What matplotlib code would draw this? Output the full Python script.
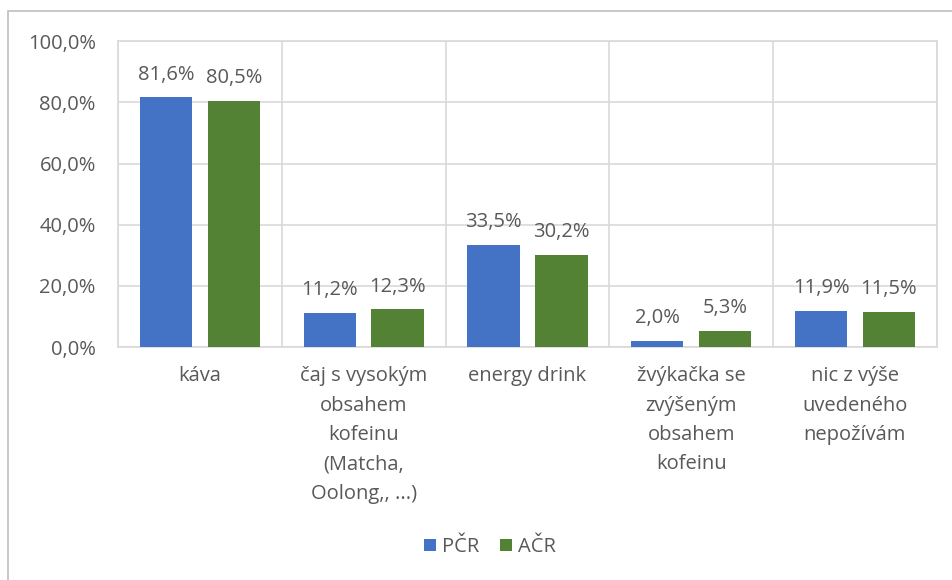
import matplotlib
matplotlib.use("Agg")
import matplotlib.pyplot as plt
from matplotlib.patches import Rectangle
import numpy as np

categories = ["káva",
              "čaj s vysokým\nobsahem\nkofeinu\n(Matcha,\nOolong,, ...)",
              "energy drink",
              "žvýkačka se\nzvýšeným\nobsahem\nkofeinu",
              "nic z výše\nuvedeného\nnepožívám"]
series_names = ["PČR", "AČR"]
pcr = [81.6, 11.2, 33.5, 2.0, 11.9]
acr = [80.5, 12.3, 30.2, 5.3, 11.5]
yticks = [0, 20, 40, 60, 80, 100]

colors = ["#4472C4", "#548235"]
txt = "#595959"
grid = "#D9D9D9"
fs = 14.5

plt.rcParams['font.family'] = ['Open Sans', 'DejaVu Sans']

fig = plt.figure(figsize=(9.52, 5.8), dpi=100)
ax = fig.add_axes([0.124, 0.4017, 0.86, 0.5273])

x = np.arange(len(categories))
w = 0.32
off = 0.207
b1 = ax.bar(x - off, pcr, w, color=colors[0], label=series_names[0], zorder=3)
b2 = ax.bar(x + off, acr, w, color=colors[1], label=series_names[1], zorder=3)

for bars, vals in ((b1, pcr), (b2, acr)):
    for r, v in zip(bars, vals):
        ax.annotate(f"{v:.1f}%".replace(".", ","),
                    (r.get_x() + r.get_width() / 2, v),
                    xytext=(0, 9), textcoords="offset points",
                    ha="center", va="bottom", fontsize=fs, color=txt)

ax.set_xlim(-0.5, len(categories) - 0.5)
ax.set_ylim(0, 100)
ax.set_yticks(yticks)
ax.set_yticklabels([f"{t:.1f}%".replace(".", ",") for t in yticks],
                   fontsize=fs, color=txt)
ax.set_xticks(x)
ax.set_xticklabels(categories, fontsize=fs, color=txt, linespacing=1.62,
                   va="top", ha="center")
ax.tick_params(axis="both", length=0)
ax.tick_params(axis="x", pad=14)
ax.tick_params(axis="y", pad=16)

ax.set_xticks(np.arange(-0.5, len(categories) + 0.5, 1), minor=True)
ax.grid(axis="y", color=grid, linewidth=1.2, zorder=0)
ax.grid(axis="x", which="minor", color=grid, linewidth=1.2, zorder=0)
ax.grid(axis="x", which="major", visible=False)
ax.tick_params(axis="x", which="minor", length=0)
for s in ax.spines.values():
    s.set_color(grid)
    s.set_linewidth(1.2)
ax.set_axisbelow(True)

leg = fig.legend(handles=[b1, b2], labels=series_names, loc="center",
                 bbox_to_anchor=(490 / 952, 1 - 547 / 580), ncol=2,
                 frameon=False, fontsize=fs, handlelength=0.6,
                 handleheight=0.6, handletextpad=0.3, columnspacing=1.0)
for t in leg.get_texts():
    t.set_color(txt)

fig.patches.append(Rectangle((8 / 952, -0.01), 1.0, 1 - 11 / 580 + 0.01,
                             transform=fig.transFigure, fill=False,
                             edgecolor="#BFBFBF", linewidth=1.2))

fig.savefig("out.png", dpi=100, facecolor="white")
